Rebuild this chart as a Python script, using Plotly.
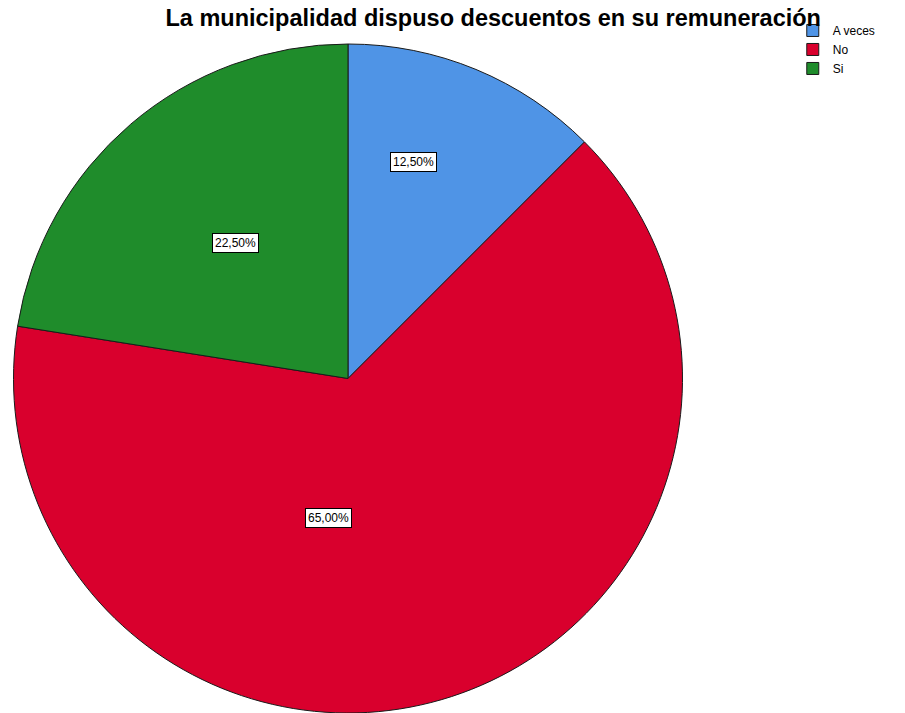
import math
import plotly.graph_objects as go

# datos
categorias = ["A veces", "No", "Si"]
porcentajes = [12.5, 65.0, 22.5]
etiquetas = ["12,50%", "65,00%", "22,50%"]
colores = ["#4f94e6", "#d9002d", "#1f8c2b"]

titulo = "La municipalidad dispuso descuentos en su remuneración"

W, H = 905, 713
# geometría del pastel (px, coordenadas del lienzo)
CX, CY, R = 348, 379, 335
# posición de las etiquetas: ángulo (grados, horario desde arriba) y fracción del radio
LABEL_POS = [(16.7, 0.676), (187.8, 0.419), (320.3, 0.528)]

fig = go.Figure()
fig.add_trace(go.Pie(
    labels=categorias,
    values=porcentajes,
    sort=False,
    direction="clockwise",
    rotation=0,
    marker=dict(colors=colores, line=dict(color="#1a1a1a", width=1)),
    textinfo="none",
    hoverinfo="label+percent",
    domain=dict(x=[(CX - R) / W, (CX + R) / W],
                y=[max(0, 1 - (CY + R) / H), 1 - (CY - R) / H]),
))

anns = []
for lab, (ang, frac) in zip(etiquetas, LABEL_POS):
    a = math.radians(ang)
    px = CX + frac * R * math.sin(a)
    py = CY - frac * R * math.cos(a)
    anns.append(dict(
        x=px / W, y=1 - py / H, xref="paper", yref="paper",
        xanchor="center", yanchor="middle",
        text=lab, showarrow=False,
        font=dict(family="Arial", size=12, color="#000000"),
        bgcolor="#ffffff", bordercolor="#000000", borderwidth=1, borderpad=2,
    ))

fig.update_layout(
    width=W, height=H,
    paper_bgcolor="#ffffff", plot_bgcolor="#ffffff",
    margin=dict(l=0, r=0, t=0, b=0),
    title=dict(text=titulo, x=0.545, xanchor="center", y=0.9748, yanchor="middle",
               font=dict(family="Arial", size=23.5, color="#000000", weight="bold")),
    legend=dict(x=0.876, y=0.9776, xanchor="left", yanchor="top",
                font=dict(family="Arial", size=12, color="#000000"),
                bgcolor="rgba(0,0,0,0)", itemwidth=30, tracegroupgap=0),
    annotations=anns,
)

fig.write_html("out.html", config={"displayModeBar": False},
               post_script="document.body.style.margin='0';")
